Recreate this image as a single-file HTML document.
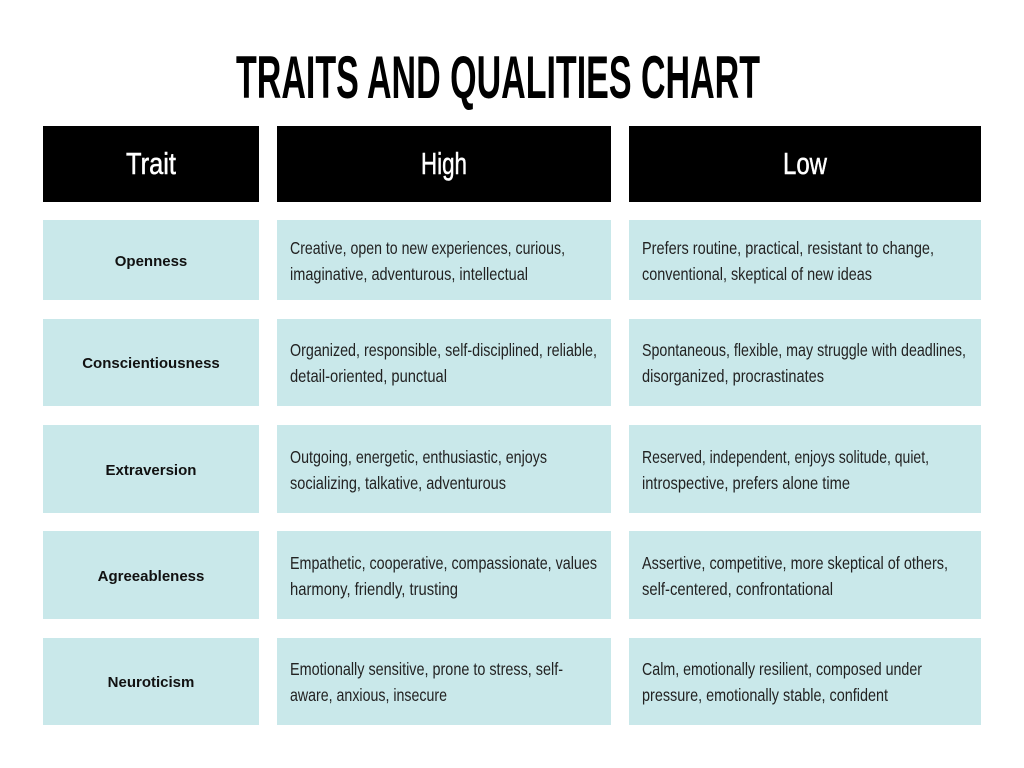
<!DOCTYPE html>
<html><head><meta charset="utf-8"><style>
html,body{margin:0;padding:0;background:#fff;}
svg{display:block;}
.b{font-family:"Liberation Sans Narrow","Liberation Sans",sans-serif;font-size:17.5px;fill:#222;}
.t{font-family:"Liberation Sans",sans-serif;font-size:15px;font-weight:bold;fill:#111;}
.h{font-family:"Liberation Sans Narrow","Liberation Sans",sans-serif;font-size:31px;fill:#fff;stroke:#fff;stroke-width:0.5;}
</style></head><body>
<svg width="1024" height="768" viewBox="0 0 1024 768">
<text x="236" y="98" textLength="524" lengthAdjust="spacingAndGlyphs" font-family="Liberation Sans Narrow, Liberation Sans, sans-serif" font-weight="bold" font-size="60" fill="#000">TRAITS AND QUALITIES CHART</text>
<rect x="43" y="126" width="216" height="76" fill="#000"/>
<rect x="277" y="126" width="334" height="76" fill="#000"/>
<rect x="629" y="126" width="352" height="76" fill="#000"/>
<text class="h" x="126" y="174" textLength="50" lengthAdjust="spacingAndGlyphs">Trait</text>
<text class="h" x="421" y="174" textLength="46" lengthAdjust="spacingAndGlyphs">High</text>
<text class="h" x="783" y="174" textLength="44" lengthAdjust="spacingAndGlyphs">Low</text>
<g fill="#c9e8ea">
<rect x="43" y="220" width="216" height="80"/><rect x="277" y="220" width="334" height="80"/><rect x="629" y="220" width="352" height="80"/>
<rect x="43" y="319" width="216" height="87"/><rect x="277" y="319" width="334" height="87"/><rect x="629" y="319" width="352" height="87"/>
<rect x="43" y="425" width="216" height="88"/><rect x="277" y="425" width="334" height="88"/><rect x="629" y="425" width="352" height="88"/>
<rect x="43" y="531" width="216" height="88"/><rect x="277" y="531" width="334" height="88"/><rect x="629" y="531" width="352" height="88"/>
<rect x="43" y="638" width="216" height="87"/><rect x="277" y="638" width="334" height="87"/><rect x="629" y="638" width="352" height="87"/>
</g>
<g text-anchor="middle">
<text class="t" x="151" y="266">Openness</text>
<text class="t" x="151" y="368">Conscientiousness</text>
<text class="t" x="151" y="475">Extraversion</text>
<text class="t" x="151" y="581">Agreeableness</text>
<text class="t" x="151" y="687">Neuroticism</text>
</g>
<g>
<text class="b" x="290" y="254" textLength="275" lengthAdjust="spacingAndGlyphs">Creative, open to new experiences, curious,</text>
<text class="b" x="290" y="280" textLength="238" lengthAdjust="spacingAndGlyphs">imaginative, adventurous, intellectual</text>
<text class="b" x="290" y="356" textLength="307" lengthAdjust="spacingAndGlyphs">Organized, responsible, self-disciplined, reliable,</text>
<text class="b" x="290" y="382" textLength="157" lengthAdjust="spacingAndGlyphs">detail-oriented, punctual</text>
<text class="b" x="290" y="463" textLength="257" lengthAdjust="spacingAndGlyphs">Outgoing, energetic, enthusiastic, enjoys</text>
<text class="b" x="290" y="489" textLength="216" lengthAdjust="spacingAndGlyphs">socializing, talkative, adventurous</text>
<text class="b" x="290" y="569" textLength="307" lengthAdjust="spacingAndGlyphs">Empathetic, cooperative, compassionate, values</text>
<text class="b" x="290" y="595" textLength="168" lengthAdjust="spacingAndGlyphs">harmony, friendly, trusting</text>
<text class="b" x="290" y="675" textLength="273" lengthAdjust="spacingAndGlyphs">Emotionally sensitive, prone to stress, self-</text>
<text class="b" x="290" y="701" textLength="157" lengthAdjust="spacingAndGlyphs">aware, anxious, insecure</text>
<text class="b" x="642" y="254" textLength="292" lengthAdjust="spacingAndGlyphs">Prefers routine, practical, resistant to change,</text>
<text class="b" x="642" y="280" textLength="230" lengthAdjust="spacingAndGlyphs">conventional, skeptical of new ideas</text>
<text class="b" x="642" y="356" textLength="324" lengthAdjust="spacingAndGlyphs">Spontaneous, flexible, may struggle with deadlines,</text>
<text class="b" x="642" y="382" textLength="182" lengthAdjust="spacingAndGlyphs">disorganized, procrastinates</text>
<text class="b" x="642" y="463" textLength="287" lengthAdjust="spacingAndGlyphs">Reserved, independent, enjoys solitude, quiet,</text>
<text class="b" x="642" y="489" textLength="208" lengthAdjust="spacingAndGlyphs">introspective, prefers alone time</text>
<text class="b" x="642" y="569" textLength="306" lengthAdjust="spacingAndGlyphs">Assertive, competitive, more skeptical of others,</text>
<text class="b" x="642" y="595" textLength="191" lengthAdjust="spacingAndGlyphs">self-centered, confrontational</text>
<text class="b" x="642" y="675" textLength="280" lengthAdjust="spacingAndGlyphs">Calm, emotionally resilient, composed under</text>
<text class="b" x="642" y="701" textLength="246" lengthAdjust="spacingAndGlyphs">pressure, emotionally stable, confident</text>
</g>
</svg>
</body></html>
